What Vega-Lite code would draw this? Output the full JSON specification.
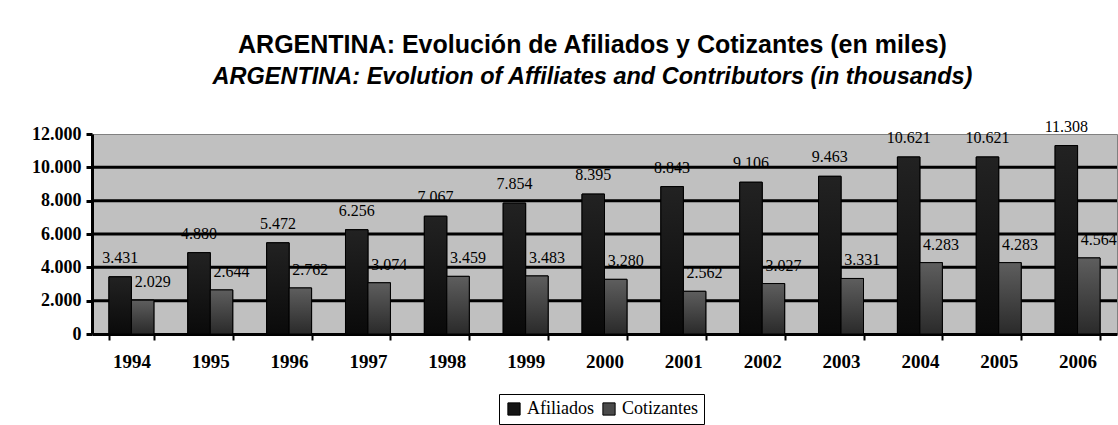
{
  "$schema": "https://vega.github.io/schema/vega-lite/v6.json",
  "width": 1025,
  "height": 200,
  "autosize": {"type": "none"},
  "padding": {"left": 92, "top": 134, "right": 1, "bottom": 91},
  "background": "white",
  "config": {
    "locale": {"number": {"decimal": ",", "thousands": ".", "grouping": [3], "currency": ["$", ""]}},
    "view": {"fill": "#c0c0c0", "stroke": "#808080", "strokeWidth": 1}
  },
  "title": {
    "text": "ARGENTINA: Evolución de Afiliados y Cotizantes (en miles)",
    "subtitle": "ARGENTINA: Evolution of Affiliates and Contributors (in thousands)",
    "anchor": "middle",
    "frame": "group",
    "dx": -12,
    "offset": 30,
    "font": "Liberation Sans",
    "fontSize": 25,
    "fontWeight": "bold",
    "color": "black",
    "subtitleFont": "Liberation Sans",
    "subtitleFontSize": 23.5,
    "subtitleFontWeight": "bold",
    "subtitleFontStyle": "italic",
    "subtitleColor": "black",
    "subtitlePadding": 7
  },
  "datasets": {
    "bars": [
      {"year": "1994", "serie": "Afiliados", "value": 3431},
      {"year": "1995", "serie": "Afiliados", "value": 4880},
      {"year": "1996", "serie": "Afiliados", "value": 5472},
      {"year": "1997", "serie": "Afiliados", "value": 6256},
      {"year": "1998", "serie": "Afiliados", "value": 7067},
      {"year": "1999", "serie": "Afiliados", "value": 7854},
      {"year": "2000", "serie": "Afiliados", "value": 8395},
      {"year": "2001", "serie": "Afiliados", "value": 8843},
      {"year": "2002", "serie": "Afiliados", "value": 9106},
      {"year": "2003", "serie": "Afiliados", "value": 9463},
      {"year": "2004", "serie": "Afiliados", "value": 10621},
      {"year": "2005", "serie": "Afiliados", "value": 10621},
      {"year": "2006", "serie": "Afiliados", "value": 11308},
      {"year": "1994", "serie": "Cotizantes", "value": 2029},
      {"year": "1995", "serie": "Cotizantes", "value": 2644},
      {"year": "1996", "serie": "Cotizantes", "value": 2762},
      {"year": "1997", "serie": "Cotizantes", "value": 3074},
      {"year": "1998", "serie": "Cotizantes", "value": 3459},
      {"year": "1999", "serie": "Cotizantes", "value": 3483},
      {"year": "2000", "serie": "Cotizantes", "value": 3280},
      {"year": "2001", "serie": "Cotizantes", "value": 2562},
      {"year": "2002", "serie": "Cotizantes", "value": 3027},
      {"year": "2003", "serie": "Cotizantes", "value": 3331},
      {"year": "2004", "serie": "Cotizantes", "value": 4283},
      {"year": "2005", "serie": "Cotizantes", "value": 4283},
      {"year": "2006", "serie": "Cotizantes", "value": 4564}
    ],
    "grid": [
      {"value": 2000}, {"value": 4000}, {"value": 6000}, {"value": 8000}, {"value": 10000}
    ]
  },
  "encoding": {
    "y": {
      "field": "value",
      "type": "quantitative",
      "scale": {"domain": [0, 12000], "nice": false},
      "axis": {
        "title": null,
        "values": [0, 2000, 4000, 6000, 8000, 10000, 12000],
        "format": ",d",
        "labelOverlap": false,
        "labelFont": "Liberation Serif",
        "labelFontSize": 18,
        "labelFontWeight": "bold",
        "labelColor": "black",
        "labelPadding": 5,
        "domainColor": "black",
        "domainWidth": 3,
        "tickColor": "black",
        "tickWidth": 3,
        "tickSize": 6,
        "grid": false
      }
    }
  },
  "layer": [
    {
      "data": {"name": "grid"},
      "mark": {"type": "rule", "color": "black", "strokeWidth": 3},
      "encoding": {}
    },
    {
      "data": {"name": "bars"},
      "encoding": {
        "x": {
          "field": "year",
          "type": "nominal",
          "scale": {"paddingInner": 0.43, "paddingOuter": 0.215},
          "axis": {
            "title": null,
            "labelAngle": 0,
            "labelFont": "Liberation Serif",
            "labelFontSize": 19,
            "labelFontWeight": "bold",
            "labelColor": "black",
            "labelPadding": 12,
            "domainColor": "black",
            "domainWidth": 3,
            "tickColor": "black",
            "tickWidth": 2,
            "tickSize": 6,
            "tickBand": "extent",
            "grid": false
          }
        },
        "xOffset": {"field": "serie", "type": "nominal", "scale": {"paddingInner": 0, "paddingOuter": 0}}
      },
      "layer": [
        {
          "mark": {"type": "bar", "stroke": "black", "strokeWidth": 1},
          "encoding": {
            "color": {
              "field": "serie",
              "type": "nominal",
              "scale": {"domain": ["Afiliados", "Cotizantes"], "range": ["#151515", "#4a4a4a"]},
              "legend": {
                "title": null,
                "orient": "none",
                "legendX": 407,
                "legendY": 260,
                "direction": "horizontal",
                "symbolType": "square",
                "symbolSize": 150,
                "symbolStrokeColor": "black",
                "symbolStrokeWidth": 1,
                "symbolOpacity": 1,
                "labelFont": "Liberation Serif",
                "labelFontSize": 18,
                "labelColor": "black",
                "columnPadding": 6,
                "padding": 6,
                "strokeColor": "black",
                "fillColor": "white"
              }
            }
          }
        },
        {
          "transform": [{"filter": "datum.serie === 'Afiliados'"}],
          "mark": {
            "type": "bar", "stroke": "black", "strokeWidth": 1,
            "fill": {"gradient": "linear", "x1": 0, "y1": 0, "x2": 0, "y2": 1, "stops": [{"offset": 0, "color": "#222222"}, {"offset": 1, "color": "#0a0a0a"}]}
          },
          "encoding": {}
        },
        {
          "transform": [{"filter": "datum.serie === 'Cotizantes'"}],
          "mark": {
            "type": "bar", "stroke": "black", "strokeWidth": 1,
            "fill": {"gradient": "linear", "x1": 0, "y1": 0, "x2": 0, "y2": 1, "stops": [{"offset": 0, "color": "#5e5e5e"}, {"offset": 1, "color": "#2a2a2a"}]}
          },
          "encoding": {}
        },
        {
          "transform": [{"filter": "datum.serie === 'Afiliados'"}],
          "mark": {"type": "text", "font": "Liberation Serif", "fontSize": 16, "color": "black", "dy": -14, "baseline": "alphabetic"},
          "encoding": {"text": {"field": "value", "type": "quantitative", "format": ",d"}}
        },
        {
          "transform": [{"filter": "datum.serie === 'Cotizantes'"}],
          "mark": {"type": "text", "font": "Liberation Serif", "fontSize": 16, "color": "black", "dx": 10, "dy": -13, "baseline": "alphabetic"},
          "encoding": {"text": {"field": "value", "type": "quantitative", "format": ",d"}}
        }
      ]
    }
  ]
}
